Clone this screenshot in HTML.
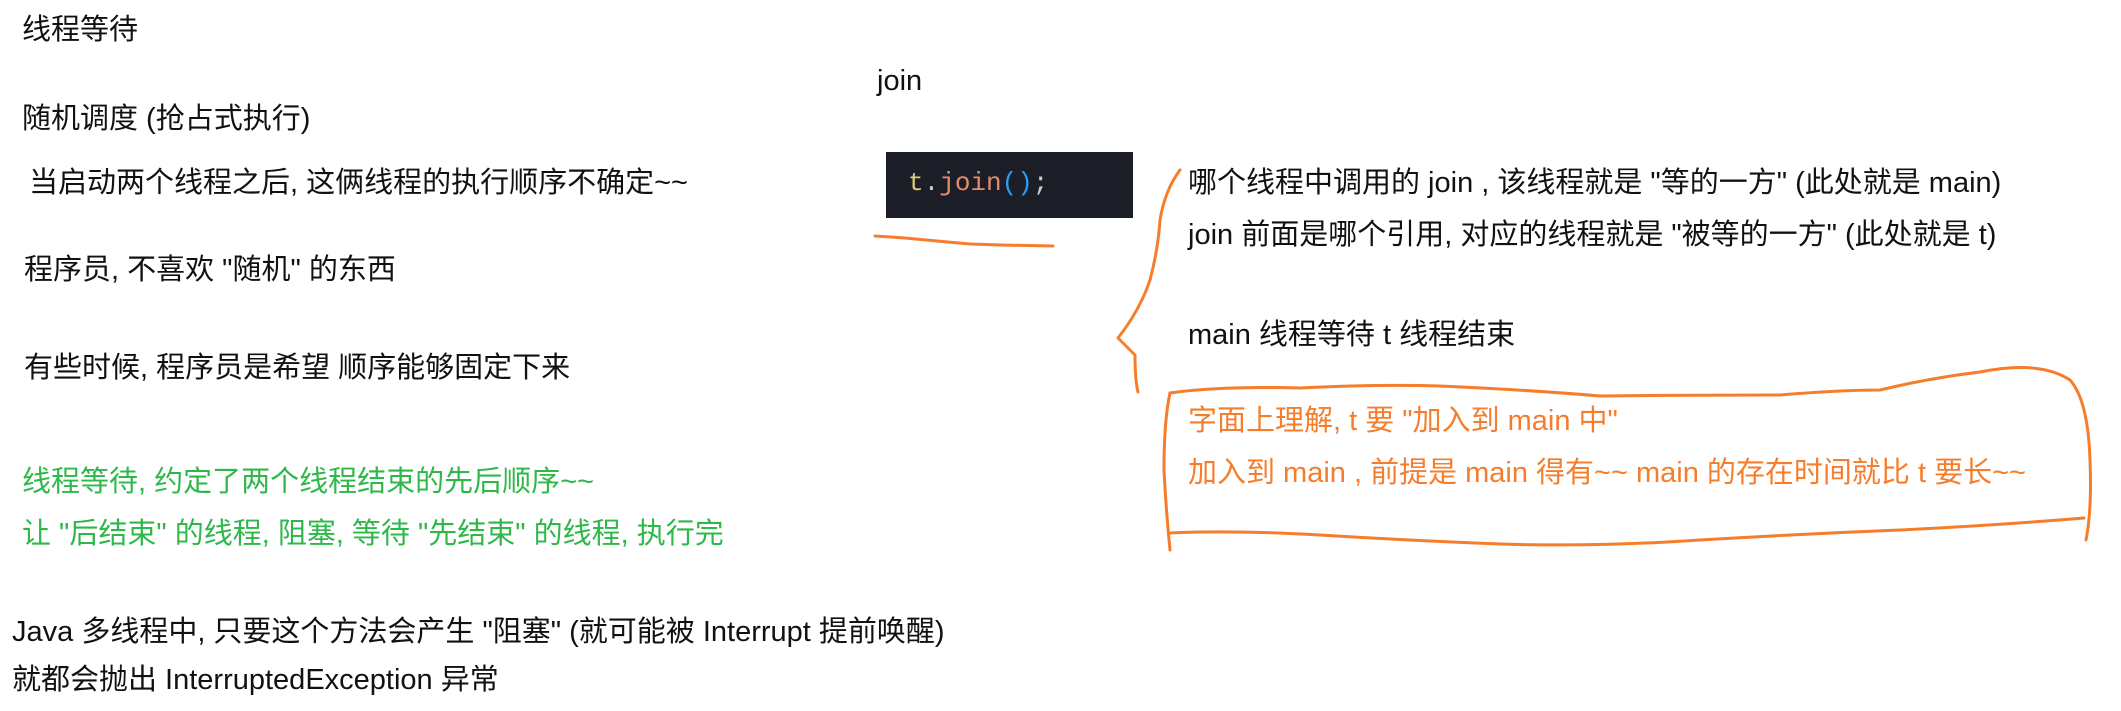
<!DOCTYPE html>
<html><head><meta charset="utf-8"><style>
html,body{margin:0;padding:0;background:#fff;}
body{width:2121px;height:711px;position:relative;overflow:hidden;font-family:"Liberation Sans","Noto Sans CJK SC",sans-serif;font-size:29px;color:#111;}
.t{position:absolute;white-space:nowrap;line-height:34px;}
.g{color:#2fb84a;}
.o{color:#f57d2b;}
#code{position:absolute;left:886px;top:152px;width:247px;height:66px;background:#1b1e26;}
#code span{position:absolute;left:22px;top:14px;font-family:"Liberation Mono",monospace;font-size:26px;line-height:34px;}
</style></head><body>
<div class="t" style="left:22px;top:13px">线程等待</div>
<div class="t" style="left:877px;top:64px">join</div>
<div class="t" style="left:22px;top:102px">随机调度 (抢占式执行)</div>
<div class="t" style="left:29px;top:166px">当启动两个线程之后, 这俩线程的执行顺序不确定~~</div>
<div class="t" style="left:24px;top:253px">程序员, 不喜欢 "随机" 的东西</div>
<div class="t" style="left:24px;top:351px">有些时候, 程序员是希望 顺序能够固定下来</div>
<div class="t g" style="left:22px;top:465px">线程等待, 约定了两个线程结束的先后顺序~~</div>
<div class="t g" style="left:22px;top:517px">让 "后结束" 的线程, 阻塞, 等待 "先结束" 的线程, 执行完</div>
<div class="t" style="left:12px;top:615px">Java 多线程中, 只要这个方法会产生 "阻塞" (就可能被 Interrupt 提前唤醒)</div>
<div class="t" style="left:12px;top:663px">就都会抛出 InterruptedException 异常</div>
<div id="code"><span><span style="position:static;color:#dcc97a">t</span><span style="position:static;color:#ccc">.</span><span style="position:static;color:#e88a6a">join</span><span style="position:static;color:#2d9bf0">()</span><span style="position:static;color:#ccc">;</span></span></div>
<div class="t" style="left:1188px;top:166px">哪个线程中调用的 join , 该线程就是 "等的一方" (此处就是 main)</div>
<div class="t" style="left:1188px;top:218px">join 前面是哪个引用, 对应的线程就是 "被等的一方" (此处就是 t)</div>
<div class="t" style="left:1188px;top:318px">main 线程等待 t 线程结束</div>
<div class="t o" style="left:1188px;top:404px">字面上理解, t 要 "加入到 main 中"</div>
<div class="t o" style="left:1188px;top:456px">加入到 main , 前提是 main 得有~~ main 的存在时间就比 t 要长~~</div>
<svg width="2121" height="711" style="position:absolute;left:0;top:0" fill="none" stroke="#f57d2b" stroke-width="3" stroke-linecap="round" stroke-linejoin="round">
<path d="M875 236 L905 238 L937 241 L970 244 L1000 245 L1053 246"/>
<path d="M1180 170 Q1165 190 1160 220 Q1158 250 1150 280 Q1140 310 1118 338 Q1125 345 1135 355 Q1135 380 1138 392"/>
<path d="M1170 393 Q1164 420 1164 470 Q1166 510 1170 550"/>
<path d="M1170 393 Q1220 386 1300 388 Q1380 384 1440 386 Q1530 390 1600 396 Q1700 395 1780 395 Q1840 390 1880 390 Q1930 378 1980 372 Q2040 360 2070 380 Q2088 400 2090 460 Q2092 510 2086 540"/>
<path d="M1170 533 Q1230 530 1320 535 Q1400 540 1500 544 Q1600 547 1700 540 Q1800 534 1900 530 Q2000 525 2084 518"/>
</svg>
</body></html>
